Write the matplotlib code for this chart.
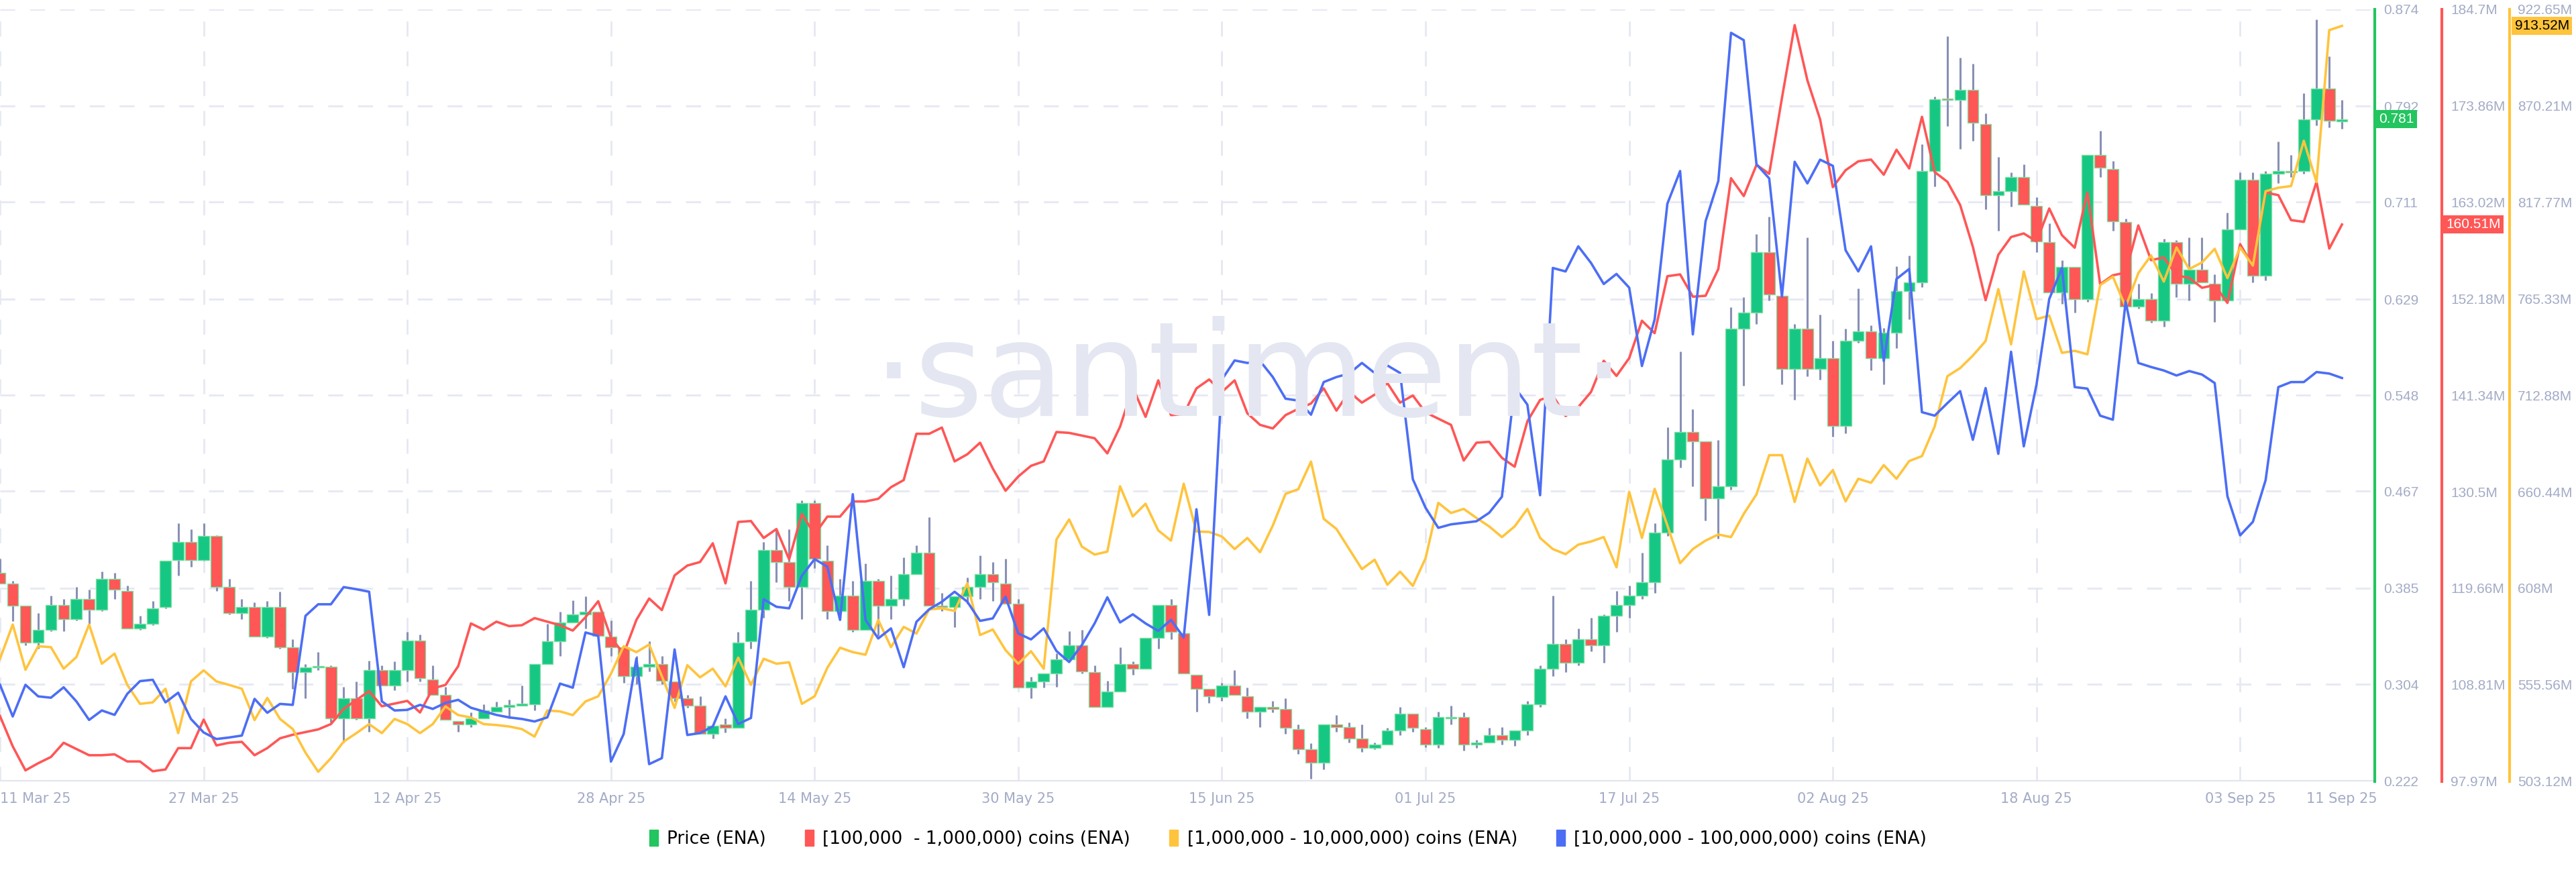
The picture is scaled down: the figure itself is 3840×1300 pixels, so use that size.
import matplotlib
matplotlib.use("Agg")
import matplotlib.pyplot as plt
from matplotlib.patches import Patch
import numpy as np
import pandas as pd

dates = pd.date_range("2025-03-11", "2025-09-11", freq="D")

# OHLC for Price (ENA)
ohlc = [
(.398,.410,.389,.389),(.389,.391,.357,.370),(.370,.370,.337,.339),(.339,.364,.334,.350),(.350,.379,.349,.371),
(.371,.376,.349,.359),(.359,.386,.358,.376),(.376,.384,.355,.367),(.367,.399,.366,.393),(.393,.398,.376,.384),
(.383,.387,.351,.351),(.351,.362,.350,.355),(.355,.374,.354,.368),(.369,.408,.368,.408),(.409,.440,.396,.424),
(.424,.435,.403,.409),(.409,.440,.408,.429),(.429,.430,.383,.386),(.386,.393,.363,.364),(.364,.376,.359,.369),
(.369,.373,.344,.344),(.344,.374,.343,.369),(.369,.382,.334,.335),(.335,.342,.300,.314),(.314,.321,.292,.318),
(.318,.331,.316,.319),(.319,.320,.272,.275),(.275,.302,.255,.292),(.292,.306,.274,.275),(.275,.324,.264,.316),
(.316,.320,.303,.303),(.303,.323,.299,.316),(.316,.348,.306,.341),(.341,.346,.306,.309),(.308,.320,.295,.295),
(.295,.302,.274,.274),(.273,.273,.264,.270),(.270,.280,.268,.275),(.275,.287,.275,.282),(.281,.289,.281,.285),
(.285,.291,.275,.286),(.286,.303,.286,.287),(.287,.321,.282,.321),(.321,.355,.321,.340),(.340,.365,.328,.356),
(.356,.375,.356,.363),(.363,.378,.351,.365),(.365,.365,.345,.345),(.344,.358,.328,.335),(.335,.335,.305,.311),
(.311,.328,.304,.319),(.319,.340,.315,.321),(.321,.328,.304,.307),(.306,.306,.289,.292),(.292,.295,.284,.286),
(.286,.294,.262,.262),(.262,.269,.258,.269),(.270,.275,.263,.267),(.267,.348,.267,.339),(.340,.391,.334,.367),
(.367,.424,.360,.417),(.417,.434,.390,.407),(.407,.435,.374,.386),(.386,.459,.359,.457),(.457,.459,.402,.410),
(.408,.421,.359,.366),(.366,.393,.359,.379),(.379,.391,.348,.350),(.350,.406,.350,.391),(.391,.393,.345,.370),
(.370,.396,.359,.376),(.376,.411,.370,.397),(.397,.421,.397,.415),(.415,.445,.370,.370),(.370,.381,.366,.369),
(.369,.378,.352,.378),(.378,.394,.372,.386),(.386,.413,.376,.397),(.397,.407,.374,.390),(.389,.410,.372,.372),
(.372,.376,.301,.301),(.301,.310,.292,.306),(.306,.313,.301,.313),(.313,.330,.302,.325),(.325,.349,.325,.337),
(.337,.350,.313,.315),(.314,.320,.285,.285),(.285,.307,.285,.298),(.298,.335,.298,.321),(.321,.323,.312,.317),
(.317,.343,.317,.343),(.343,.371,.334,.371),(.371,.376,.342,.348),(.347,.347,.313,.313),(.312,.312,.281,.300),
(.300,.300,.288,.294),(.293,.305,.290,.303),(.303,.316,.295,.295),(.294,.301,.275,.281),(.281,.285,.268,.285),
(.285,.290,.280,.283),(.283,.292,.262,.267),(.266,.270,.245,.249),(.249,.254,.224,.238),(.238,.270,.232,.270),
(.270,.278,.264,.268),(.268,.272,.255,.258),(.258,.270,.247,.250),(.250,.255,.249,.253),(.253,.267,.253,.265),
(.265,.285,.261,.279),(.279,.279,.264,.267),(.266,.268,.251,.253),(.253,.281,.250,.276),(.275,.286,.270,.276),
(.276,.280,.248,.253),(.253,.257,.250,.255),(.255,.267,.255,.261),(.261,.268,.253,.257),(.257,.265,.252,.265),
(.265,.290,.261,.287),(.287,.320,.285,.317),(.317,.379,.311,.338),(.338,.342,.314,.322),(.322,.351,.320,.342),
(.342,.360,.332,.337),(.337,.363,.322,.362),(.362,.383,.348,.371),(.371,.387,.360,.379),(.379,.415,.376,.390),
(.390,.440,.381,.432),(.432,.521,.429,.494),(.494,.585,.487,.517),(.517,.536,.471,.509),(.509,.509,.442,.461),
(.461,.510,.427,.471),(.471,.622,.468,.604),(.604,.631,.556,.618),(.618,.684,.608,.669),(.669,.699,.628,.633),
(.632,.632,.557,.570),(.570,.608,.544,.604),(.604,.681,.564,.570),(.570,.616,.561,.579),(.579,.594,.513,.522),
(.522,.604,.516,.594),(.594,.638,.592,.602),(.602,.607,.569,.579),(.579,.605,.557,.601),(.601,.657,.588,.636),
(.636,.666,.612,.643),(.643,.760,.639,.737),(.737,.800,.724,.798),(.798,.851,.775,.797),(.797,.833,.756,.806),
(.806,.828,.763,.778),(.777,.786,.705,.717),(.717,.749,.687,.720),(.720,.736,.707,.732),(.732,.743,.709,.709),
(.708,.715,.669,.678),(.677,.693,.635,.635),(.635,.662,.625,.656),(.656,.656,.618,.629),(.629,.751,.627,.751),
(.751,.771,.732,.740),(.739,.746,.687,.695),(.694,.697,.623,.623),(.623,.642,.621,.629),(.629,.634,.609,.611),
(.611,.680,.606,.677),(.677,.679,.631,.642),(.642,.681,.628,.654),(.654,.681,.643,.643),(.642,.650,.610,.628),
(.628,.702,.628,.688),(.688,.736,.688,.730),(.730,.736,.643,.649),(.649,.737,.645,.735),(.735,.762,.727,.737),
(.737,.751,.732,.736),(.737,.803,.735,.781),(.781,.865,.776,.807),(.807,.834,.774,.780),(.779,.797,.773,.781),
]
price_open = [r[0] for r in ohlc]
price_high = [r[1] for r in ohlc]
price_low = [r[2] for r in ohlc]
price_close = [r[3] for r in ohlc]

# [100,000 - 1,000,000] coins (ENA), millions
red_vals = [105.3,101.9,99.2,100.0,100.7,102.3,101.6,100.9,100.9,101.0,100.2,100.2,99.1,99.3,101.7,101.7,104.9,102.0,102.3,102.4,
100.9,101.7,102.8,103.2,103.5,103.8,104.4,106.1,107.1,108.1,106.4,106.7,107.0,
105.7,108.4,108.8,110.9,115.7,115.0,115.9,115.4,115.5,116.3,115.9,115.5,114.9,116.4,118.2,114.1,112.3,116.1,118.5,117.2,
121.1,122.2,122.6,124.7,120.2,127.1,127.2,125.3,126.3,122.9,128.0,125.7,
127.7,127.7,129.4,129.4,129.7,131.0,131.8,137.0,137.0,137.7,133.9,134.7,136.0,133.1,130.6,132.2,133.4,133.9,137.2,137.1,
136.8,136.5,134.8,137.8,142.2,138.9,143.0,139.1,139.2,142.1,143.1,141.7,
143.0,139.3,138.0,137.6,139.1,139.8,140.4,142.1,139.6,141.7,140.5,141.4,142.7,140.5,141.3,139.4,138.7,138.0,134.0,136.0,
136.1,134.3,133.3,138.4,140.8,141.3,139.0,140.0,141.7,145.2,143.5,
145.5,149.7,148.3,154.7,154.9,152.4,152.5,155.5,165.7,163.7,167.2,166.2,174.7,182.9,176.7,172.3,164.7,166.6,167.6,167.8,
166.1,168.9,166.8,172.6,166.4,165.3,162.7,158.0,152.0,157.1,159.1,159.5,
158.6,162.3,159.3,157.9,164.1,153.8,154.8,155.1,160.4,156.5,156.8,154.8,154.5,153.4,153.7,151.7,158.3,155.8,164.1,163.8,
161.0,160.8,165.3,157.8,160.51]

# [1,000,000 - 10,000,000] coins (ENA), millions
yellow_vals = [569.7,588.3,563.7,576.5,576.0,564.3,570.6,588.3,567.0,572.5,555.5,545.2,546.0,553.4,529.3,557.4,563.4,557.4,555.5,553.4,
536.4,548.4,537.0,531.5,518.7,508.3,515.7,524.7,529.3,534.2,529.3,537.0,534.2,529.3,534.2,543.8,539.1,537.8,534.2,533.7,
532.9,531.5,527.4,541.6,541.1,539.1,546.5,549.3,561.5,576.5,573.3,577.4,560.2,543.0,566.2,559.6,564.3,554.7,570.3,555.5,
569.7,567.0,567.8,545.2,549.3,564.8,575.7,573.3,571.9,590.8,576.0,587.0,583.4,596.5,597.1,595.7,610.7,582.6,585.6,574.4,
567.0,573.8,564.3,634.5,645.4,630.6,626.3,627.9,663.4,647.0,653.9,639.4,633.9,664.8,638.8,638.6,636.1,629.3,635.3,627.6,
642.1,659.3,661.8,676.8,645.7,640.2,629.3,618.4,623.5,609.9,617.0,609.3,624.3,654.4,648.9,651.1,646.2,641.6,635.8,641.6,
651.1,635.3,629.3,626.5,631.7,633.4,635.8,619.4,660.4,635.3,662.0,642.1,621.6,629.3,633.9,637.2,635.8,648.4,659.0,680.3,
680.3,654.9,678.4,663.9,672.2,655.2,667.5,665.3,674.9,667.5,677.1,679.8,695.9,723.2,727.6,734.4,742.3,770.5,740.5,780.1,
754.2,756.1,735.9,737.0,735.1,772.7,777.3,760.9,779.2,788.8,774.6,793.1,781.4,785.0,792.4,776.5,793.1,783.3,823.7,825.6,
826.5,851.1,828.7,911.2,913.52]

# [10,000,000 - 100,000,000] coins (ENA), millions (no visible axis)
blue_vals = [1250.0,1233.6,1250.0,1244.0,1243.3,1248.7,1241.4,1231.8,1236.7,1234.4,1245.3,1251.9,1252.6,1240.9,1245.9,1232.3,1225.3,1221.9,1222.7,1223.7,
1242.7,1235.5,1240.1,1239.6,1285.7,1291.7,1291.7,1300.6,1299.5,1298.2,1241.4,1236.7,1237.0,1239.6,1237.5,1240.6,1242.2,1238.1,1236.2,1234.4,
1233.1,1232.3,1231.0,1233.1,1250.6,1248.5,1277.1,1275.3,1210.2,1224.5,1263.6,1208.9,1212.0,1268.3,1224.0,1225.0,1228.4,1244.0,1229.7,1232.8,
1294.3,1290.4,1289.6,1306.5,1315.1,1311.2,1283.6,1348.7,1283.6,1274.0,1279.2,1259.1,1282.6,1289.1,1293.0,1298.2,1293.0,1283.1,1284.4,1295.6,
1276.6,1273.5,1279.2,1267.5,1261.8,1270.6,1281.8,1295.3,1282.3,1286.5,1281.8,1277.9,1283.6,1274.5,1340.9,1286.2,1408.1,1418.0,1416.7,1417.7,
1409.4,1398.2,1397.2,1389.9,1406.8,1409.4,1411.2,1416.7,1411.5,1415.4,1411.5,1356.5,1341.7,1331.3,1333.1,1333.9,1334.7,1339.1,1347.4,1404.2,
1395.1,1348.2,1465.9,1464.1,1477.1,1468.5,1457.6,1462.8,1455.7,1415.1,1439.3,1499.2,1516.1,1431.5,1490.1,1510.9,1587.7,1583.9,1519.6,1512.3,
1451.1,1520.9,1509.7,1522.0,1518.8,1475.1,1464.1,1477.1,1417.7,1460.2,1465.4,1391.2,1389.4,1395.9,1402.1,1376.9,1403.7,1369.6,1422.5,1373.5,
1405.5,1449.8,1465.9,1404.2,1403.4,1389.4,1387.3,1448.5,1416.7,1414.6,1412.8,1410.2,1412.5,1410.7,1406.3,1347.7,1327.4,1334.4,1356.0,1404.2,
1406.8,1406.8,1412.0,1411.2,1408.9]

price_ticks = [0.222, 0.304, 0.385, 0.467, 0.548, 0.629, 0.711, 0.792, 0.874]
red_ticks = ["97.97M", "108.81M", "119.66M", "130.5M", "141.34M", "152.18M", "163.02M", "173.86M", "184.7M"]
yellow_ticks = ["503.12M", "555.56M", "608M", "660.44M", "712.88M", "765.33M", "817.77M", "870.21M", "922.65M"]
date_tick_labels = ["11 Mar 25", "27 Mar 25", "12 Apr 25", "28 Apr 25", "14 May 25", "30 May 25", "15 Jun 25",
                    "01 Jul 25", "17 Jul 25", "02 Aug 25", "18 Aug 25", "03 Sep 25", "11 Sep 25"]
date_tick_days = [0, 16, 32, 48, 64, 80, 96, 112, 128, 144, 160, 176, 184]
legend_labels = ["Price (ENA)", "[100,000  - 1,000,000) coins (ENA)",
                 "[1,000,000 - 10,000,000) coins (ENA)", "[10,000,000 - 100,000,000) coins (ENA)"]

GREEN = "#16c784"; RED = "#ff5656"; YEL = "#ffc43d"; BLUE = "#4c6ef5"
AXGREEN = "#22c55e"; TICKC = "#a3abc6"; GRID = "#e6e8f2"
TF = ['Liberation Sans', 'DejaVu Sans']
TS = 15

plt.rcParams['font.family'] = ['DejaVu Sans']
fig = plt.figure(figsize=(38.4, 13), dpi=100)
ax = fig.add_axes([0.0, 0.104, 0.922, 0.8856])
x = np.arange(len(dates))

XMAX = 186.6
ax.set_xlim(0, XMAX)
ax.set_ylim(0.222, 0.874)

for t in price_ticks:
    ax.axhline(t, color=GRID, lw=2, ls=(0, (8, 8)), zorder=0)
for d in date_tick_days[:-1]:
    ax.axvline(d, color=GRID, lw=2, ls=(0, (8, 8)), zorder=0)

fig.text(0.485, 0.565, "·santiment·", fontsize=142, color="#e4e7f1", ha="center", va="center", zorder=0)

o = np.array(price_open); c = np.array(price_close)
h = np.array(price_high); l = np.array(price_low)
up = c >= o
ax.vlines(x, l, h, color="#8890b5", lw=2.2, zorder=2)
body = np.maximum(np.abs(c - o), 0.0015)
ax.bar(x, body, bottom=np.minimum(o, c), width=0.88,
       color=np.where(up, GREEN, RED), edgecolor="#7fe0a0", linewidth=1.0, zorder=3)

ax.axhline(0.222, color="#e1e4ee", lw=3, zorder=1)

axr = ax.twinx()
axr.set_ylim(97.97, 184.7)
axr.plot(x, red_vals, color=RED, lw=2.6, zorder=5)
axr.spines["right"].set_position(("axes", 3640 / 3540))
axr.spines["right"].set_color(RED); axr.spines["right"].set_linewidth(3)
axr.set_yticks(np.linspace(97.97, 184.7, 9))
axr.set_yticklabels(red_ticks, family=TF)

axy = ax.twinx()
axy.set_ylim(503.12, 922.65)
axy.plot(x, yellow_vals, color=YEL, lw=2.6, zorder=5)
axy.spines["right"].set_position(("axes", 3740 / 3540))
axy.spines["right"].set_color(YEL); axy.spines["right"].set_linewidth(3)
axy.set_yticks(np.linspace(503.12, 922.65, 9))
axy.set_yticklabels(yellow_ticks, family=TF)

axb = ax.twinx()
axb.set_ylim(1200, 1600)
axb.plot(x, blue_vals, color=BLUE, lw=2.6, zorder=5)
axb.axis("off")

for a in (axr, axy):
    for s in ["top", "left", "bottom"]:
        a.spines[s].set_visible(False)
    a.tick_params(axis="y", length=0, pad=9, labelsize=TS, colors=TICKC)
for a in (axr, axy, axb):
    a.set_xlim(0, XMAX)
    a.patch.set_visible(False)

for s in ["top", "left", "bottom"]:
    ax.spines[s].set_visible(False)
ax.spines["right"].set_visible(True)
ax.spines["right"].set_color(AXGREEN); ax.spines["right"].set_linewidth(3)
ax.set_yticks(price_ticks)
ax.set_yticklabels([f"{t:.3f}" for t in price_ticks], family=TF)
ax.yaxis.set_ticks_position("right")
ax.tick_params(axis="y", left=False, labelleft=False, right=True, labelright=True,
               length=0, pad=9, labelsize=TS, colors=TICKC)
ax.set_xticks(date_tick_days)
ax.set_xticklabels(date_tick_labels)
ax.tick_params(axis="x", length=0, pad=12, labelsize=15, colors=TICKC)
ax.get_xticklabels()[0].set_ha("left")

ax.text(1.0 + 6 / 3540, price_close[-1], f"{price_close[-1]:.3f}", transform=ax.get_yaxis_transform(),
        fontsize=TS, family=TF, color="white", va="center", ha="left", zorder=10,
        bbox=dict(boxstyle="square,pad=0.2", fc=AXGREEN, ec="none"))
axr.text(3646 / 3540, red_vals[-1], f"{red_vals[-1]:.2f}M", transform=axr.get_yaxis_transform(),
         fontsize=TS, family=TF, color="white", va="center", ha="left",
         bbox=dict(boxstyle="square,pad=0.2", fc=RED, ec="none"))
axy.text(3748 / 3540, yellow_vals[-1], f"{yellow_vals[-1]:.2f}M", transform=axy.get_yaxis_transform(),
         fontsize=TS, family=TF, color="black", va="center", ha="left",
         bbox=dict(boxstyle="square,pad=0.2", fc=YEL, ec="none"))

handles = [Patch(color=col) for col in (AXGREEN, RED, YEL, BLUE)]
fig.legend(handles, legend_labels, loc="center", bbox_to_anchor=(0.5, 0.038), ncol=4, frameon=False,
           fontsize=19, handlelength=0.5, handleheight=1.0, columnspacing=2.2, handletextpad=0.5)

fig.savefig("out.png", dpi=100)
